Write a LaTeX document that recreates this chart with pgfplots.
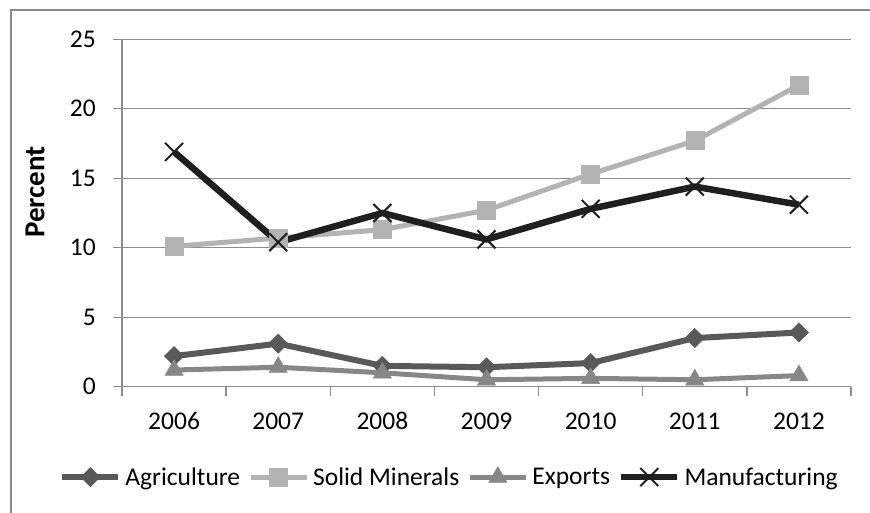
\documentclass[border=0pt]{standalone}
\usepackage{pgfplots}
\pgfplotsset{compat=1.18}
\usepackage{fontspec}
\setmainfont{Carlito}
\definecolor{agri}{HTML}{595959}
\definecolor{mine}{HTML}{B3B3B3}
\definecolor{expo}{HTML}{878787}
\definecolor{manu}{HTML}{1F1F1F}
\definecolor{gridgray}{HTML}{8C8C8C}
\newcommand{\chfont}{\fontsize{25.5}{30}\selectfont}
\begin{document}
\begin{tikzpicture}[x=1pt,y=1pt]
\useasboundingbox (-122,-125.3) rectangle (748,386.7);
\draw[color=gridgray, line width=1.3pt] (-111,-200) -- (-111,376.7) -- (900,376.7);
\begin{axis}[
  at={(0,0)}, anchor=south west,
  scale only axis, width=729pt, height=347.4pt,
  xmin=-0.5, xmax=6.5, ymin=0, ymax=25,
  xtick={-0.5,0.5,...,6.5},
  xticklabels={2006,2007,2008,2009,2010,2011,2012},
  x tick label as interval,
  ytick={0,5,...,25},
  ymajorgrids,
  major grid style={line width=1.3pt, color=gridgray},
  axis x line*=bottom, axis y line*=left,
  axis line style={line width=1.3pt, color=gridgray, -},
  tick align=outside, major tick length=9pt,
  tick style={color=gridgray, line width=1.3pt},
  /pgf/number format/assume math mode=true,
  tick label style={font=\chfont, text=black},
  yticklabel style={anchor=east, inner sep=0pt, xshift=-17pt},
  xticklabel style={anchor=base, inner sep=0pt, yshift=-34pt},
  ylabel={\fontsize{29}{34}\selectfont\bfseries Percent},
  every axis y label/.style={at={(axis description cs:-0.1193,0.561)}, rotate=90, anchor=center},
  clip=false,
  legend columns=4,
  legend style={at={(axis description cs:0.448,-0.259)}, anchor=center, draw=none, fill=none,
    font=\chfont, nodes={inner sep=0pt},
    /tikz/every odd column/.append style={column sep=4pt},
    /tikz/every even column/.append style={column sep=8pt}},
  legend image code/.code={\draw[mark repeat=2,mark phase=2,#1] plot coordinates {(0pt,0pt) (28pt,0pt) (56pt,0pt)};},
]
\addplot[color=agri, line width=6pt, mark=square*, mark size=6.8pt, mark options={rotate=45, line width=0.5pt, fill=agri}]
  coordinates {(0,2.2) (1,3.1) (2,1.5) (3,1.4) (4,1.7) (5,3.5) (6,3.9)};
\addlegendentry{Agriculture}
\addplot[color=mine, line width=5pt, mark=square*, mark size=9pt, mark options={line width=0.5pt, fill=mine}]
  coordinates {(0,10.1) (1,10.7) (2,11.3) (3,12.7) (4,15.3) (5,17.7) (6,21.7)};
\addlegendentry{Solid Minerals}
\addplot[color=expo, line width=5pt, mark=triangle*, mark size=10.5pt, mark options={line width=0.5pt, fill=expo}]
  coordinates {(0,1.2) (1,1.4) (2,1.0) (3,0.5) (4,0.6) (5,0.5) (6,0.8)};
\addlegendentry{Exports}
\addplot[color=manu, line width=6.5pt, mark=x, mark size=12.7pt, mark options={line width=2pt, color=manu}]
  coordinates {(0,16.9) (1,10.4) (2,12.5) (3,10.6) (4,12.8) (5,14.4) (6,13.1)};
\addlegendentry{Manufacturing}
\end{axis}
\end{tikzpicture}
\end{document}
